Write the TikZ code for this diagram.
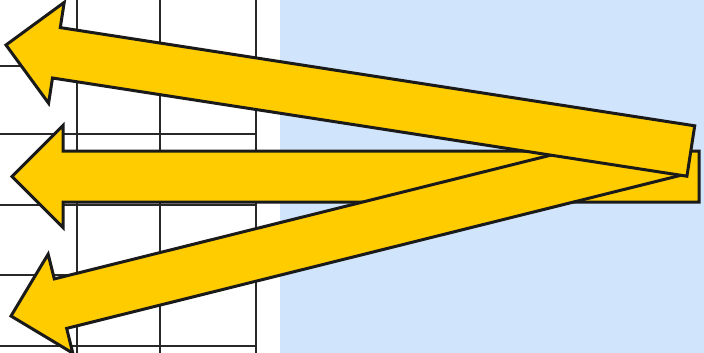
\documentclass[tikz,border=0pt]{standalone}
\definecolor{arrowyellow}{RGB}{255,204,0}
\definecolor{arrowedge}{RGB}{26,26,26}
\definecolor{panelblue}{RGB}{208,228,251}
\definecolor{gridgray}{RGB}{40,40,40}
\tikzset{
  bigarrow/.style={fill=arrowyellow, draw=arrowedge, line width=3pt, line join=miter},
  gridline/.style={draw=gridgray, line width=1.8pt},
  pics/leftarrow/.style={code={
    \draw[bigarrow] (0,0) -- (51,-51) -- (51,-25.5) -- (#1,-25.5) -- (#1,25.5)
      -- (51,25.5) -- (51,51) -- cycle;
  }}
}
\begin{document}
\begin{tikzpicture}[x=1pt,y=-1pt]
\useasboundingbox (0,0) rectangle (704,353);
\clip (0,0) rectangle (704,353);
% background
\fill[white] (0,0) rectangle (280,353);
\fill[panelblue] (280,0) rectangle (704,353);
% grid
\foreach \gx in {77,160,256} \draw[gridline] (\gx,0) -- (\gx,353);
\foreach \gy in {66,134,205,275,346} \draw[gridline] (0,\gy) -- (256,\gy);
% arrow tips
\coordinate (tipB) at (12,176.5);
\coordinate (tipC) at (11,316);
\coordinate (tipA) at (6,45);
% arrows (drawing order: middle, bottom, top)
\pic[rotate=0] at (tipB) {leftarrow=687};
\pic[rotate=14] at (tipC) {leftarrow=684};
\pic[rotate=-8.8] at (tipA) {leftarrow=693};
\end{tikzpicture}
\end{document}
